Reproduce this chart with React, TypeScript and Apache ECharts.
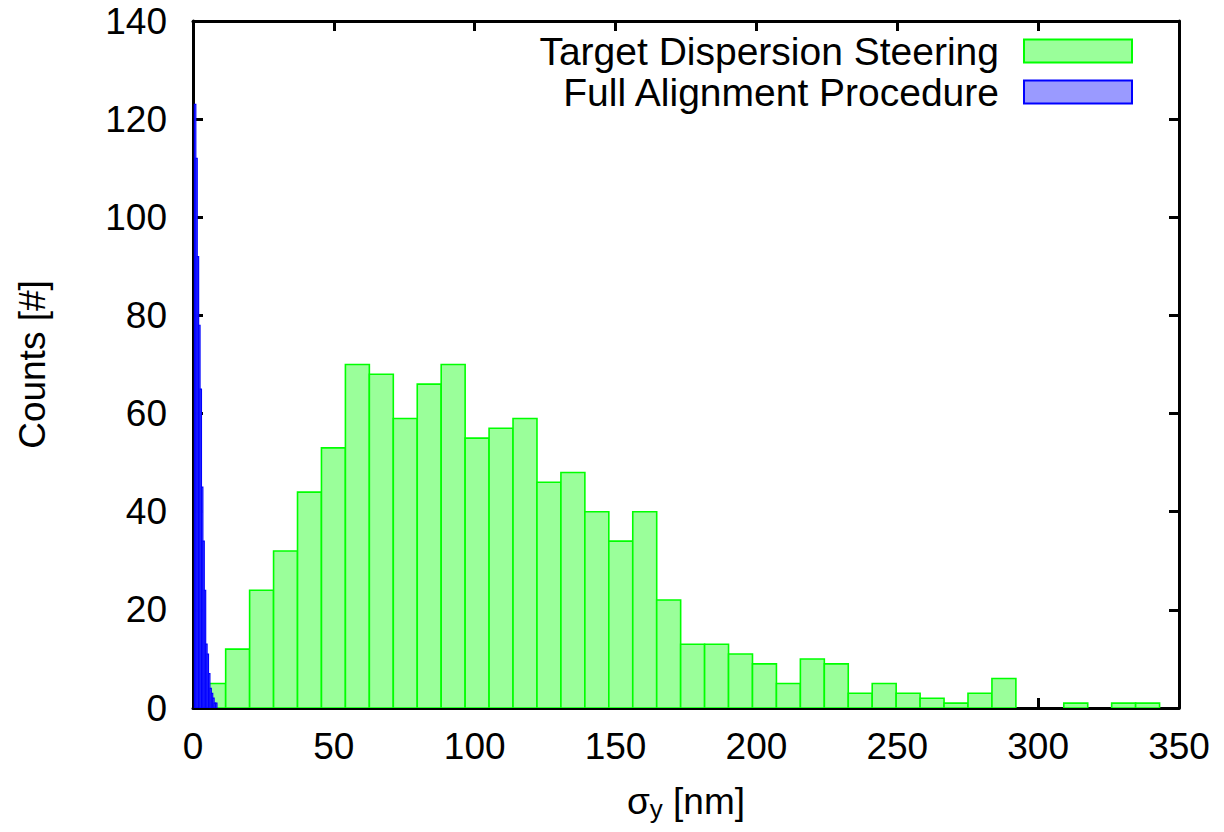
import React, { useEffect, useRef } from "react";
import * as echarts from "echarts";

// Target Dispersion Steering histogram (40 bins)
const greenCounts = [5, 12, 24, 32, 44, 53, 70, 68, 59, 66, 70, 55, 57, 59, 46, 48, 40, 34, 40, 22, 13, 13, 11, 9, 5, 10, 9, 3, 5, 3, 2, 1, 3, 6, 0, 0, 1, 0, 1, 1];
const GREEN_BIN_START = 3.1;
const GREEN_BIN_WIDTH = 8.5;

// Full Alignment Procedure histogram (narrow bins)
const blueCounts = [123, 112, 92, 78, 65, 45, 34, 24, 13, 11, 7, 4, 3, 2, 1, 1];
const BLUE_BIN_START = 0.5;
const BLUE_BIN_WIDTH = 0.5;

const xTicks = { min: 0, max: 350, interval: 50 };
const yTicks = { min: 0, max: 140, interval: 20 };

const SERIES_GREEN = "Target Dispersion Steering";
const SERIES_BLUE = "Full Alignment Procedure";

const FONT = "'Liberation Sans', Arial, Helvetica, sans-serif";

function toBins(counts: number[], start: number, width: number) {
  const out: number[][] = [];
  counts.forEach((c, i) => {
    if (c > 0) out.push([start + i * width, start + (i + 1) * width, c]);
  });
  return out;
}

function makeRender(fill: string, stroke: string, lw: number) {
  return (params: any, api: any) => {
    const x0 = api.value(0);
    const x1 = api.value(1);
    const y = api.value(2);
    const p0 = api.coord([x0, y]);
    const p1 = api.coord([x1, 0]);
    return {
      type: "rect",
      shape: { x: p0[0], y: p0[1], width: p1[0] - p0[0], height: p1[1] - p0[1] },
      style: { fill, stroke, lineWidth: lw },
    };
  };
}

export default function App() {
  const ref = useRef<HTMLDivElement>(null);
  useEffect(() => {
    if (!ref.current) return;
    const chart = echarts.init(ref.current, undefined, { renderer: "svg" });
    const axisLine = { show: true, onZero: false, lineStyle: { color: "#000", width: 3 } };
    const axisTick = { show: true, inside: true, length: 10, lineStyle: { color: "#000", width: 3 } };
    chart.setOption({
      animation: false,
      backgroundColor: "#fff",
      textStyle: { fontFamily: FONT },
      grid: { left: 193, top: 21, width: 986, height: 687, containLabel: false },
      legend: {
        orient: "vertical",
        right: 86,
        top: 26,
        align: "right",
        itemWidth: 108,
        itemHeight: 23,
        itemGap: 1,
        selectedMode: false,
        textStyle: { fontSize: 39, lineHeight: 40, color: "#000", fontFamily: FONT, padding: [0, 20, 0, 0] },
        data: [
          { name: SERIES_GREEN, icon: "rect", itemStyle: { color: "#9aff9a", borderColor: "#00ff00", borderWidth: 2 } },
          { name: SERIES_BLUE, icon: "rect", itemStyle: { color: "#9a9aff", borderColor: "#0000ff", borderWidth: 2 } },
        ],
      },
      xAxis: [
        {
          type: "value",
          position: "bottom",
          min: xTicks.min,
          max: xTicks.max,
          interval: xTicks.interval,
          axisLine,
          axisTick,
          splitLine: { show: false },
          axisLabel: { fontSize: 37, color: "#000", margin: 20, fontFamily: FONT },
          name: "{a|σ}{s|y}{a| [nm]}",
          nameLocation: "middle",
          nameGap: 72,
          nameTextStyle: {
            rich: {
              a: { fontSize: 37, color: "#000", fontFamily: FONT },
              s: { fontSize: 26, color: "#000", fontFamily: FONT, verticalAlign: "bottom", padding: [16, 0, 0, 0] },
            },
          },
        },
        {
          type: "value",
          position: "top",
          min: xTicks.min,
          max: xTicks.max,
          interval: xTicks.interval,
          axisLine,
          axisTick,
          axisLabel: { show: false },
          splitLine: { show: false },
        },
      ],
      yAxis: [
        {
          type: "value",
          position: "left",
          min: yTicks.min,
          max: yTicks.max,
          interval: yTicks.interval,
          axisLine,
          axisTick,
          splitLine: { show: false },
          axisLabel: { fontSize: 37, color: "#000", margin: 26, fontFamily: FONT },
          name: "Counts [#]",
          nameLocation: "middle",
          nameGap: 142,
          nameTextStyle: { fontSize: 37, color: "#000", fontFamily: FONT },
        },
        {
          type: "value",
          position: "right",
          min: yTicks.min,
          max: yTicks.max,
          interval: yTicks.interval,
          axisLine,
          axisTick,
          axisLabel: { show: false },
          splitLine: { show: false },
        },
      ],
      series: [
        {
          name: SERIES_GREEN,
          type: "custom",
          xAxisIndex: 0,
          yAxisIndex: 0,
          clip: true,
          itemStyle: { color: "#9aff9a" },
          renderItem: makeRender("#9aff9a", "#00ff00", 1.6),
          encode: { x: [0, 1], y: 2 },
          data: toBins(greenCounts, GREEN_BIN_START, GREEN_BIN_WIDTH),
          z: 1,
        },
        {
          name: SERIES_BLUE,
          type: "custom",
          xAxisIndex: 0,
          yAxisIndex: 0,
          clip: true,
          itemStyle: { color: "#9a9aff" },
          renderItem: makeRender("#9a9aff", "#0000ff", 1.2),
          encode: { x: [0, 1], y: 2 },
          data: toBins(blueCounts, BLUE_BIN_START, BLUE_BIN_WIDTH),
          z: 2,
        },
      ],
    });
    return () => chart.dispose();
  }, []);
  return (
    <div
      ref={ref}
      style={{ position: "absolute", left: 0, top: 0, width: 1224, height: 832, background: "#fff" }}
    />
  );
}
